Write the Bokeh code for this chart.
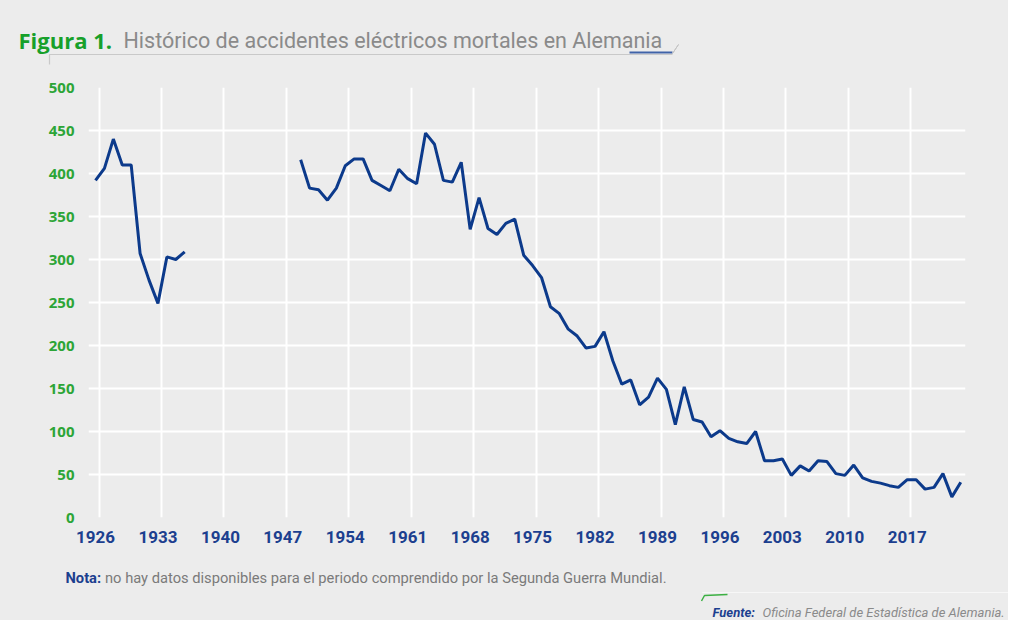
from bokeh.plotting import figure
from bokeh.layouts import column
from bokeh.models import Range1d, FixedTicker, Label, PolyAnnotation
from bokeh.embed import file_html
from bokeh.resources import INLINE

# ---- data -------------------------------------------------------------
years_prewar = list(range(1926, 1937))
deaths_prewar = [392, 406, 440, 410, 410, 307, 276, 249, 303, 300, 309]

years_postwar = list(range(1949, 2024))
deaths_postwar = [416, 383, 381, 369, 383, 409, 417, 417, 392, 386,
                  380, 405, 394, 388, 447, 434, 392, 390, 413, 335,
                  372, 336, 329, 342, 347, 305, 293, 279, 245, 237,
                  219, 211, 197, 199, 216, 182, 155, 160, 131, 140,
                  162, 149, 108, 152, 114, 111, 94, 101, 92, 88,
                  86, 100, 66, 66, 68, 49, 60, 54, 66, 65,
                  51, 49, 61, 46, 42, 40, 37, 35, 44, 44,
                  33, 35, 51, 24, 41]

x_tick_years = [1926, 1933, 1940, 1947, 1954, 1961, 1968, 1975, 1982,
                1989, 1996, 2003, 2010, 2017]
y_tick_values = [0, 50, 100, 150, 200, 250, 300, 350, 400, 450, 500]

title_bold = "Figura 1."
title_text = "Histórico de accidentes eléctricos mortales en Alemania"
note_bold = "Nota:"
note_text = "no hay datos disponibles para el periodo comprendido por la Segunda Guerra Mundial."
source_bold = "Fuente:"
source_text = "Oficina Federal de Estadística de Alemania."

# ---- styles -------------------------------------------------------------
W = 1008
HEADER_H, CHART_H, FOOTER_H = 72, 484, 64
CARD = "#ececec"
LINE_BLUE = "#0c3a8b"
LABEL_BLUE = "#1c3f8f"
GREEN = "#2ca537"
GRAY_TEXT = "#8a8a8a"


def panel(height):
    f = figure(width=W, height=height, output_backend="svg", toolbar_location=None,
               x_range=Range1d(0, W), y_range=Range1d(height, 0),
               x_axis_type=None, y_axis_type=None, title=None,
               min_border=0, min_border_left=0, min_border_right=0,
               min_border_top=0, min_border_bottom=0)
    f.frame_align = False
    f.outline_line_color = None
    f.background_fill_color = CARD
    f.border_fill_color = CARD
    f.xgrid.visible = False
    f.ygrid.visible = False
    return f


def add_label(f, text, x, y, font="Roboto", size="14px", color=GRAY_TEXT,
              style="normal"):
    f.add_layout(Label(x=x, y=y, text=text, text_font=font, text_font_size=size,
                       text_color=color, text_font_style=style,
                       text_baseline="alphabetic", text_align="left"))


def add_path(f, xs, ys, color, width, alpha=1.0):
    f.add_layout(PolyAnnotation(xs=xs + xs[::-1], ys=ys + ys[::-1],
                                fill_color=None, fill_alpha=0,
                                line_color=color, line_width=width,
                                line_alpha=alpha))


# ---- header -------------------------------------------------------------
header = panel(HEADER_H)
add_label(header, title_bold, 18, 39, font="Open Sans", size="22px",
          color="#17a02a", style="bold")
add_label(header, title_text, 123, 40, font="Roboto", size="21.5px",
          color=GRAY_TEXT)
add_path(header, [49, 49, 672], [64, 54, 54], "#c9c9c9", 1.2)
add_path(header, [629, 672], [52, 52], "#4063a8", 2)
add_path(header, [672, 678], [53, 44], "#c4c4c4", 1)

# ---- chart --------------------------------------------------------------
p = figure(width=W, height=CHART_H, output_backend="svg", toolbar_location=None,
           x_range=Range1d(1925.215, 2023.53), y_range=Range1d(0, 500),
           title=None,
           min_border_left=88, min_border_right=43, min_border_top=15,
           min_border_bottom=39)
p.frame_align = False
p.outline_line_color = None
p.background_fill_color = CARD
p.border_fill_color = CARD

p.xaxis.ticker = FixedTicker(ticks=x_tick_years)
p.yaxis.ticker = FixedTicker(ticks=y_tick_values)
p.xgrid.ticker = FixedTicker(ticks=[t + 0.4 for t in x_tick_years])
p.ygrid.ticker = FixedTicker(ticks=y_tick_values)
for g in (p.xgrid, p.ygrid):
    g.grid_line_color = "white"
    g.grid_line_width = 2
    g.grid_line_alpha = 1

for ax in (p.xaxis, p.yaxis):
    ax.axis_line_color = None
    ax.major_tick_line_color = None
    ax.minor_tick_line_color = None
    ax.major_tick_out = 0
    ax.major_tick_in = 0
    ax.minor_tick_out = 0

p.xaxis.major_label_text_font = "Roboto"
p.xaxis.major_label_text_font_style = "bold"
p.xaxis.major_label_text_font_size = "17px"
p.xaxis.major_label_text_color = LABEL_BLUE
p.xaxis.major_label_standoff = 13

p.yaxis.major_label_text_font = "Open Sans"
p.yaxis.major_label_text_font_style = "bold"
p.yaxis.major_label_text_font_size = "15px"
p.yaxis.major_label_text_color = GREEN
p.yaxis.major_label_standoff = 14

p.line(years_prewar, deaths_prewar, line_color=LINE_BLUE, line_width=3)
p.line(years_postwar, deaths_postwar, line_color=LINE_BLUE, line_width=3)

# ---- footer -------------------------------------------------------------
footer = panel(FOOTER_H)
add_label(footer, note_bold, 65, 21.5, font="Roboto", size="14.7px",
          color=LABEL_BLUE, style="bold")
add_label(footer, note_text, 104.5, 21.5, font="Roboto", size="14.7px",
          color="#7a7a7a")
add_path(footer, [702, 1008], [36, 36], "#f7f7f7", 1)
add_path(footer, [701, 704, 727], [44.5, 39, 38], "#3cb043", 1.5)
add_label(footer, source_bold, 712, 55.5, font="Roboto", size="13px",
          color=LABEL_BLUE, style="bold italic")
add_label(footer, source_text, 762, 55.5, font="Roboto", size="13px",
          color="#8a8a8a", style="italic")

layout = column(header, p, footer, spacing=0,
                styles={"background-color": CARD})
open("out.html", "w").write(file_html(layout, INLINE))
